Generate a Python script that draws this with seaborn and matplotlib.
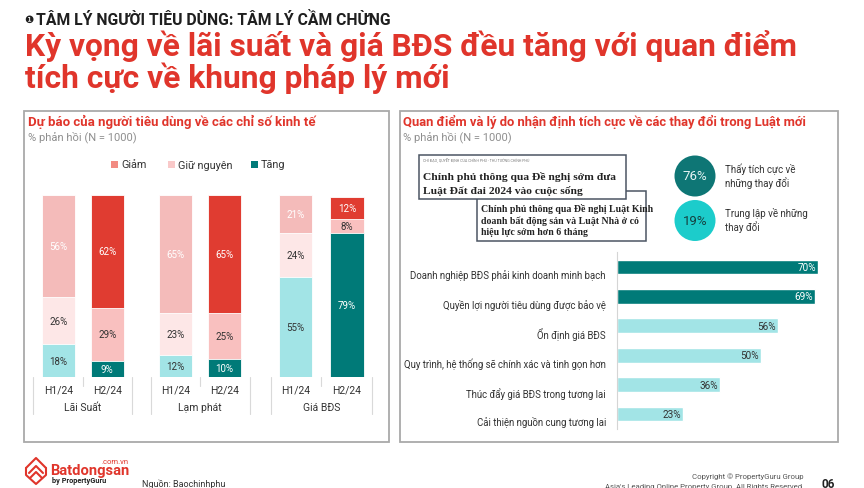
import numpy as np
import pandas as pd
import matplotlib
matplotlib.use("Agg")
import matplotlib.pyplot as plt
import matplotlib.transforms as mtrans
from matplotlib.patches import Rectangle, Circle
import seaborn as sns

# ---------------- data ----------------
groups = ["Lãi Suất", "Lạm phát", "Giá BĐS"]
periods = ["H1/24", "H2/24"]
giam = [56, 62, 65, 65, 21, 12]
giu_nguyen = [26, 29, 23, 25, 24, 8]
tang = [18, 9, 12, 10, 55, 79]
legend_labels = ["Giảm", "Giữ nguyên", "Tăng"]

reasons = ["Doanh nghiệp BĐS phải kinh doanh minh bạch",
           "Quyền lợi người tiêu dùng được bảo vệ",
           "Ổn định giá BĐS",
           "Quy trình, hệ thống sẽ chính xác và tinh gọn hơn",
           "Thúc đẩy giá BĐS trong tương lai",
           "Cải thiện nguồn cung tương lai"]
reason_vals = [70, 69, 56, 50, 36, 23]

sentiment_vals = [76, 19]
sentiment_labels = ["Thấy tích cực về\nnhững thay đổi", "Trung lập về những\nthay đổi"]

# ---------------- style ----------------
sns.set_theme(style="white")
plt.rcParams["font.family"] = ["Roboto", "DejaVu Sans"]

RED = "#E0352B"
DARK = "#333333"
GREY = "#8E8E8E"
col_h1 = {"giam": "#F4BBBA", "giu": "#FDE7E7", "tang": "#A2E4E6"}
col_h2 = {"giam": "#E03C31", "giu": "#F9C0BF", "tang": "#007A78"}

W, H = 864, 489
fig = plt.figure(figsize=(W / 100, H / 100), dpi=100)
fig.patch.set_facecolor("white")

# overlay axes in pixel coordinates for decoration
ov = fig.add_axes([0, 0, 1, 1], zorder=0)
ov.set_xlim(0, W)
ov.set_ylim(H, 0)
ov.axis("off")


def axes_px(x0, y0, x1, y1, z=2):
    a = fig.add_axes([x0 / W, 1 - y1 / H, (x1 - x0) / W, (y1 - y0) / H], zorder=z)
    a.patch.set_alpha(0)
    return a


def t(x, y, s, **kw):
    kw.setdefault("va", "center")
    ov.text(x, y, s, **kw)


# ---------------- header ----------------
t(24.5, 20, "❶", fontsize=7.5, color="#1F1F1F", family="DejaVu Sans")
t(36, 20, "TÂM LÝ NGƯỜI TIÊU DÙNG: TÂM LÝ CẦM CHỪNG", fontsize=11.3,
  fontweight="bold", color="#1F1F1F")
t(25, 46, "Kỳ vọng về lãi suất và giá BĐS đều tăng với quan điểm", fontsize=22.9,
  fontweight="bold", color=RED)
t(25, 78, "tích cực về khung pháp lý mới", fontsize=22.9, fontweight="bold", color=RED)

# panel frames
for x0, x1 in [(24, 389), (400, 838)]:
    ov.add_patch(Rectangle((x0, 112), x1 - x0, 443 - 112, fill=False,
                           edgecolor="#A9A9A9", lw=1.3))

# ---------------- left panel ----------------
t(28, 122, "Dự báo của người tiêu dùng về các chỉ số kinh tế", fontsize=9.5,
  fontweight="bold", color=RED)
t(28, 137, "% phản hồi (N = 1000)", fontsize=8, color=GREY)

leg_cols = ["#F28B82", "#F9C9C9", "#007A78"]
leg_x = [111, 168, 251]
for lx, lc, ll in zip(leg_x, leg_cols, legend_labels):
    ov.add_patch(Rectangle((lx, 161.5), 7, 7, color=lc, lw=0))
    t(lx + 10, 165.5, ll, fontsize=7.8, color=DARK)

pos = [0, 1, 2.4, 3.4, 4.85, 5.9]
keys = [f"{g} {p}" for g in groups for p in periods]
df = pd.DataFrame({"pos": pos, "key": keys, "giam": giam,
                   "giu": giu_nguyen, "tang": tang})
df["c_tang"] = df["tang"]
df["c_giu"] = df["tang"] + df["giu"]
df["c_all"] = df["c_giu"] + df["giam"]

axL = axes_px(38, 196, 368, 378)
for layer, col in [("giam", "c_all"), ("giu", "c_giu"), ("tang", "c_tang")]:
    pal = {k: (col_h1 if "H1" in k else col_h2)[layer] for k in keys}
    sns.barplot(data=df, x="pos", y=col, hue="key", palette=pal, native_scale=True,
                dodge=False, width=0.68, saturation=1, legend=False,
                edgecolor="white", linewidth=0.6, ax=axL)
axL.set_xlim(-0.415, 6.33)
axL.set_ylim(0, 100)
axL.axis("off")

for i, r in df.iterrows():
    h1 = "H1" in r["key"]
    segs = [(r["tang"] / 2, r["tang"], DARK if h1 else "white"),
            (r["tang"] + r["giu"] / 2, r["giu"], DARK),
            (r["c_giu"] + r["giam"] / 2, r["giam"], "white")]
    for yc, v, c in segs:
        axL.text(r["pos"], yc, f"{v}%", ha="center", va="center", fontsize=7,
                 color=c)

# category table under the bars
tr = axL.get_xaxis_transform()
def yfrac(py):
    return (378 - py) / 182.0
for gi in range(3):
    p0, p1 = pos[2 * gi], pos[2 * gi + 1]
    for xe in (p0 - 0.51, p1 + 0.51):
        axL.plot([xe, xe], [yfrac(378), yfrac(415)], transform=tr, color="#D9D9D9",
                 lw=0.8, clip_on=False)
    mid = (p0 + p1) / 2
    axL.plot([mid, mid], [yfrac(378), yfrac(387)], transform=tr, color="#D9D9D9",
             lw=0.8, clip_on=False)
    for p, lab in zip((p0, p1), periods):
        axL.text(p, yfrac(390.5), lab, transform=tr, ha="center", va="center",
                 fontsize=7.5, color=DARK)
    axL.text(mid, yfrac(408.5), groups[gi], transform=tr, ha="center", va="center",
             fontsize=7.5, color=DARK)

# ---------------- right panel ----------------
t(403, 122, "Quan điểm và lý do nhận định tích cực về các thay đổi trong Luật mới",
  fontsize=9.4, fontweight="bold", color=RED)
t(403, 137, "% phản hồi (N = 1000)", fontsize=8, color=GREY)

# news clippings (second clipping sits behind the first)
ov.add_patch(Rectangle((477, 192), 169, 50, facecolor="white", edgecolor="#4B5563",
                       lw=1.1, zorder=3))
for yy, line in zip((209.5, 221, 232.5), ["Chính phủ thông qua Đề nghị Luật Kinh",
                                           "doanh bất động sản và Luật Nhà ở có",
                                           "hiệu lực sớm hơn 6 tháng"]):
    t(481, yy, line, fontsize=7.1, fontweight="bold", family="Liberation Serif",
      color="#222222", zorder=4)
ov.add_patch(Rectangle((419, 156), 207, 44, facecolor="white", edgecolor="#4B5563",
                       lw=1.1, zorder=5))
t(423, 160.5, "CHỈ ĐẠO, QUYẾT ĐỊNH CỦA CHÍNH PHỦ - THỦ TƯỚNG CHÍNH PHỦ", fontsize=2.6,
  color="#777777", zorder=6)
t(423, 177, "Chính phủ thông qua Đề nghị sớm đưa", fontsize=8.25, fontweight="bold",
  family="Liberation Serif", color="#222222", zorder=6)
t(423, 191, "Luật Đất đai 2024 vào cuộc sống", fontsize=8.25, fontweight="bold",
  family="Liberation Serif", color="#222222", zorder=6)

# sentiment badges
for cy, v, lab, fc, tc in zip((177, 221.5), sentiment_vals, sentiment_labels,
                              ("#0E7675", "#1CCCCB"), ("#E6F4F4", "#15403F")):
    ov.add_patch(Circle((695, cy), 20.5, color=fc, lw=0))
    t(695, cy, f"{v}%", ha="center", fontsize=9.5, color=tc)
    t(725, cy - 1, lab, fontsize=7.0, color=DARK, linespacing=1.2)

# horizontal bars
axR = axes_px(617, 253.3, 832, 429.7)
rpal = {r: ("#007A78" if v >= 60 else "#A2E4E6") for r, v in zip(reasons, reason_vals)}
sns.barplot(x=reason_vals, y=reasons, hue=reasons, palette=rpal, orient="h",
            width=0.51, saturation=1, legend=False, dodge=False, ax=axR)
axR.set_xlim(0, 74.9)
axR.set_xlabel("")
axR.set_ylabel("")
axR.set_xticks([])
for s in ("top", "right", "bottom"):
    axR.spines[s].set_visible(False)
axR.spines["left"].set_color("#D5D5D5")
axR.spines["left"].set_linewidth(0.8)
axR.tick_params(axis="y", length=0, pad=8, labelsize=6.9, labelcolor=DARK)
off = mtrans.ScaledTranslation(0, -7 / 100, fig.dpi_scale_trans)
for lab in axR.get_yticklabels():
    lab.set_transform(lab.get_transform() + off)
for i, v in enumerate(reason_vals):
    axR.text(v - 0.7, i, f"{v}%", ha="right", va="center", fontsize=7.2,
             color="white" if v >= 60 else DARK)

# ---------------- footer ----------------
icon = [[(26, 469), (36, 459), (46, 469)],
        [(29, 474), (36, 467), (43, 474)],
        [(26, 469), (26, 476), (36, 485), (46, 476), (46, 469)],
        [(30, 479), (36, 473), (42, 479)]]
for seg in icon:
    xs, ys = zip(*seg)
    ov.plot(xs, ys, color=RED, lw=1.5, solid_capstyle="round",
            solid_joinstyle="round")
t(50, 470.5, "Batdongsan", fontsize=10.6, fontweight="bold", color=RED)
t(129, 461.5, ".com.vn", fontsize=5.5, color=RED, ha="right")
t(52, 481, "by PropertyGuru", fontsize=5.3, fontweight="bold", color="#222222")
t(142, 484.5, "Nguồn: Baochinhphu", fontsize=6.5, color=DARK)
t(803, 476.5, "Copyright © PropertyGuru Group", fontsize=5.6, color="#555555",
  ha="right")
t(802, 486.5, "Asia's Leading Online Property Group. All Rights Reserved", fontsize=5.6,
  color="#555555", ha="right")
t(828, 484, "06", fontsize=8.5, fontweight="bold", color="#222222", ha="center")

fig.savefig("out.png", dpi=100, facecolor="white")
